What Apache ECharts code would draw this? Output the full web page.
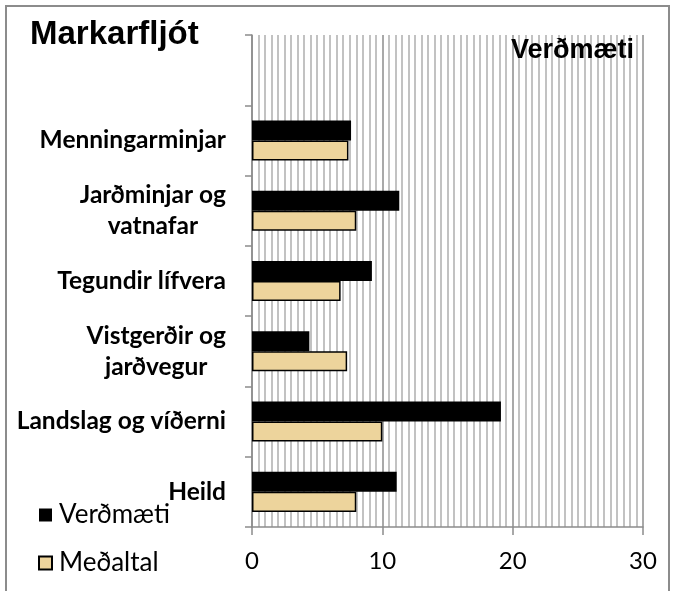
<!DOCTYPE html>
<html>
<head>
<meta charset="utf-8">
<script src="https://cdn.jsdelivr.net/npm/echarts@6/dist/echarts.min.js"></script>
<style>
html,body{margin:0;padding:0;background:#fff;}
#frame{position:absolute;left:5px;top:5px;width:661px;height:600px;border:2px solid #8c8c8c;}
#chart{position:absolute;left:0;top:0;width:674px;height:591px;}
</style>
</head>
<body>
<div id="frame"></div>
<div id="chart"></div>
<script>
const categories = ['Heild', 'Landslag og víðerni', 'Vistgerðir og\njarðvegur', 'Tegundir lífvera', 'Jarðminjar og\nvatnafar', 'Menningarminjar', ''];
const verdmaeti = [11.1, 19.1, 4.4, 9.2, 11.3, 7.6, null];
const medaltal = [8.0, 10.0, 7.3, 6.8, 8.0, 7.4, null];
const xTicks = [0, 10, 20, 30];
const titleText = 'Markarfljót';
const subText = 'Verðmæti';

const chart = echarts.init(document.getElementById('chart'), null, {renderer: 'canvas'});
chart.setOption({
  animation: false,
  backgroundColor: 'transparent',
  grid: {left: 252, right: 31, top: 35, bottom: 64, containLabel: false},
  graphic: [
    {type: 'text', left: 30, top: 18, style: {text: titleText, font: 'bold 33px "Liberation Sans", Arial', fill: '#000'}},
    {type: 'text', left: 511, top: 37, z: 10, style: {text: subText, font: 'bold 27px "Liberation Sans", Arial', fill: '#000'}}
  ],
  legend: {
    orient: 'vertical', left: 33, top: 497,
    data: [{name: 'Verðmæti'}, {name: 'Meðaltal'}],
    icon: 'rect', itemWidth: 13, itemHeight: 13, itemGap: 22,
    textStyle: {fontFamily: 'Lato', fontSize: 26, color: '#000', padding: [0, 0, 0, 2]}
  },
  xAxis: {
    type: 'value', min: xTicks[0], max: xTicks[xTicks.length - 1], interval: 10,
    axisLine: {show: true, lineStyle: {color: '#8c8c8c', width: 1.5}},
    axisTick: {show: true, length: 8, lineStyle: {color: '#8c8c8c', width: 1.5}},
    axisLabel: {margin: 22, fontFamily: 'Lato', fontSize: 24, color: '#000'},
    splitLine: {show: true, lineStyle: {color: '#8c8c8c', width: 1.5}},
    minorTick: {show: false, splitNumber: 20},
    minorSplitLine: {show: true, lineStyle: {color: '#c2c2c2', width: 2}}
  },
  yAxis: {
    type: 'category', data: categories,
    axisLine: {show: true, lineStyle: {color: '#8c8c8c', width: 1.5}},
    axisTick: {show: true, length: 7, lineStyle: {color: '#8c8c8c', width: 1.5}},
    axisLabel: {
      margin: 26, color: '#000',
      formatter: function (v) {
        return v.split('\n').map(function (l) { return '{c|' + l + '}'; }).join('\n');
      },
      rich: {c: {align: 'center', fontFamily: 'Lato', fontWeight: 'bold', fontSize: 24.5, lineHeight: 31, color: '#000'}}
    }
  },
  series: [
    {name: 'Verðmæti', type: 'bar', data: verdmaeti, barGap: '0%', barCategoryGap: '43%',
     itemStyle: {color: '#000', borderColor: '#000', borderWidth: 0}},
    {name: 'Meðaltal', type: 'bar', data: medaltal, barGap: '0%', barCategoryGap: '43%',
     itemStyle: {color: '#EDD49C', borderColor: '#000', borderWidth: 1.5}}
  ]
});
</script>
</body>
</html>
